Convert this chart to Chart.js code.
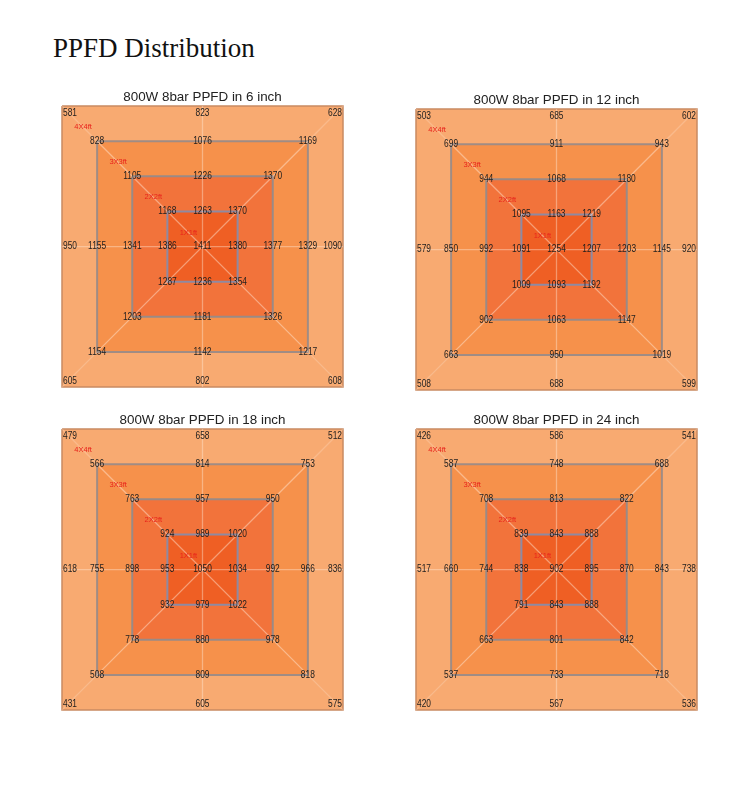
<!DOCTYPE html>
<html>
<head>
<meta charset="utf-8">
<script src="https://cdn.jsdelivr.net/npm/chart.js@4.4.1/dist/chart.umd.min.js"></script>
<style>
  body { margin: 0; background: #fff; }
  #page { position: relative; width: 750px; height: 805px; }
  h1 {
    position: absolute; left: 53px; top: 33px; margin: 0;
    font: 27px "Liberation Serif", "Times New Roman", serif; font-weight: normal; color: #111;
  }
  .box { position: absolute; width: 283px; height: 303px; }
</style>
</head>
<body>
<div id="page">
  <h1>PPFD Distribution</h1>
  <div class="box" style="left:61px;top:85px"><canvas id="c6"></canvas></div>
  <div class="box" style="left:415px;top:88px"><canvas id="c12"></canvas></div>
  <div class="box" style="left:61px;top:408px"><canvas id="c18"></canvas></div>
  <div class="box" style="left:415px;top:408px"><canvas id="c24"></canvas></div>
</div>
<script>
// hanging heights of the fixture
const heights = ["6 inch", "12 inch", "18 inch", "24 inch"];
const areaLabels = ["4X4ft", "3X3ft", "2X2ft", "1X1ft"];

// PPFD readings per ring, order: top-left, top, top-right, left, right, bottom-left, bottom, bottom-right
const ring4x4 = [
  [581, 823, 628, 950, 1090, 605, 802, 608],
  [503, 685, 602, 579, 920, 508, 688, 599],
  [479, 658, 512, 618, 836, 431, 605, 575],
  [426, 586, 541, 517, 738, 420, 567, 536],
];
const ring3x3 = [
  [828, 1076, 1169, 1155, 1329, 1154, 1142, 1217],
  [699, 911, 943, 850, 1145, 663, 950, 1019],
  [566, 814, 753, 755, 966, 508, 809, 818],
  [587, 748, 688, 660, 843, 537, 733, 718],
];
const ring2x2 = [
  [1105, 1226, 1370, 1341, 1377, 1203, 1181, 1326],
  [944, 1068, 1180, 992, 1203, 902, 1063, 1147],
  [763, 957, 950, 898, 992, 778, 880, 978],
  [708, 813, 822, 744, 870, 663, 801, 842],
];
const ring1x1 = [
  [1168, 1263, 1370, 1386, 1380, 1287, 1236, 1354],
  [1095, 1163, 1219, 1091, 1207, 1009, 1093, 1192],
  [924, 989, 1020, 953, 1034, 932, 979, 1022],
  [839, 843, 888, 838, 895, 791, 843, 888],
];
const centerValue = [1411, 1254, 1050, 902];

const canvasIds = ["c6", "c12", "c18", "c24"];
const fills = ["#f8aa71", "#f6914b", "#f2733b", "#ef5f24"];
const borders = ["#c98a62", "#a08c84", "#9a8a86", "#8e8aa2"];
const dirs = [[-1, 1], [0, 1], [1, 1], [-1, 0], [1, 0], [-1, -1], [0, -1], [1, -1]];
const half = [2, 1.5, 1, 0.5];

function square(h) {
  return [{x: -h, y: h}, {x: h, y: h}, {x: h, y: -h}, {x: -h, y: -h}, {x: -h, y: h}];
}

// narrow text: the readings in the picture are squeezed sideways
function narrowText(ctx, text, x, y, squeeze) {
  ctx.save();
  ctx.translate(x, y);
  ctx.scale(squeeze, 1);
  ctx.fillText(text, 0, 0);
  ctx.restore();
}

// draws the readings and area names at the points placed by the scales
const labelPlugin = {
  id: "ppfdLabels",
  afterDatasetsDraw(chart) {
    const ctx = chart.ctx;
    const area = chart.chartArea;
    ctx.save();
    ctx.fillStyle = "#1e1e1e";
    ctx.font = "10.5px 'Liberation Sans', Arial, sans-serif";
    chart.data.datasets.forEach((ds, i) => {
      if (!ds.values) return;
      const meta = chart.getDatasetMeta(i);
      meta.data.forEach((pt, j) => {
        const raw = ds.data[j];
        let x = pt.x, y = pt.y;
        ctx.textAlign = "center";
        ctx.textBaseline = "middle";
        if (ds.outer) {
          if (raw.x < 0) { ctx.textAlign = "left"; x = area.left + 1; }
          if (raw.x > 0) { ctx.textAlign = "right"; x = area.right - 1; }
          if (raw.y > 0) { ctx.textBaseline = "top"; y = area.top + 2; }
          if (raw.y < 0) { ctx.textBaseline = "bottom"; y = area.bottom - 1; }
        }
        narrowText(ctx, String(ds.values[j]), x, y, 0.8);
      });
    });
    const xs = chart.scales.x, ys = chart.scales.y;
    ctx.fillStyle = "#e8231c";
    ctx.font = "7.5px 'Liberation Sans', Arial, sans-serif";
    ctx.textAlign = "center";
    ctx.textBaseline = "middle";
    areaLabels.forEach((t, k) => {
      const d = half[k] - 0.3;
      ctx.fillText(t, xs.getPixelForValue(-d), ys.getPixelForValue(d));
    });
    ctx.restore();
  }
};

function buildChart(p) {
  const rings = [ring4x4[p], ring3x3[p], ring2x2[p], ring1x1[p]];
  const datasets = [];
  // value points (invisible, labels drawn by plugin)
  rings.forEach((vals, k) => {
    datasets.push({
      data: dirs.map(d => ({x: d[0] * half[k], y: d[1] * half[k]})),
      values: vals, outer: k === 0,
      pointRadius: 0, showLine: false, order: 0,
    });
  });
  datasets.push({data: [{x: 0, y: 0}], values: [centerValue[p]], pointRadius: 0, showLine: false, order: 0});
  // light guide lines
  const guide = (pts, a) => ({
    data: pts, showLine: true, pointRadius: 0, fill: false,
    borderColor: "rgba(255,236,220," + a + ")", borderWidth: 1.3, order: 1,
  });
  datasets.push(guide([{x: 0, y: 2}, {x: 0, y: -2}], 0.4));
  datasets.push(guide([{x: -2, y: 0}, {x: 2, y: 0}], 0.4));
  datasets.push(guide([{x: -1.5, y: 1.5}, {x: 1.5, y: -1.5}], 0.45));
  datasets.push(guide([{x: -1.5, y: -1.5}, {x: 1.5, y: 1.5}], 0.45));
  datasets.push(guide([{x: -2, y: 2}, {x: -1.5, y: 1.5}], 0.25));
  datasets.push(guide([{x: 2, y: 2}, {x: 1.5, y: 1.5}], 0.25));
  datasets.push(guide([{x: -2, y: -2}, {x: -1.5, y: -1.5}], 0.25));
  datasets.push(guide([{x: 2, y: -2}, {x: 1.5, y: -1.5}], 0.25));
  // area squares, largest at the back
  half.forEach((h, k) => {
    datasets.push({
      data: square(h), showLine: true, pointRadius: 0, tension: 0,
      fill: "shape", backgroundColor: fills[k],
      borderColor: borders[k], borderWidth: k === 0 ? 1.5 : 2,
      order: 10 - k,
    });
  });

  new Chart(document.getElementById(canvasIds[p]), {
    type: "scatter",
    data: {datasets},
    plugins: [labelPlugin],
    options: {
      responsive: true,
      maintainAspectRatio: false,
      animation: false,
      events: [],
      clip: false,
      layout: {padding: {left: 1, right: 1, top: 4, bottom: 1}},
      scales: {
        x: {type: "linear", min: -2, max: 2, display: false},
        y: {type: "linear", min: -2, max: 2, display: false},
      },
      plugins: {
        legend: {display: false},
        tooltip: {enabled: false},
        title: {
          display: true,
          text: "800W 8bar PPFD in " + heights[p],
          color: "#222",
          font: {family: "'Liberation Sans', Arial, sans-serif", size: 13.4, weight: "normal", lineHeight: 1.2},
          padding: {top: 0, bottom: 1},
        },
      },
    },
  });
}

heights.forEach((h, p) => buildChart(p));
</script>
</body>
</html>
